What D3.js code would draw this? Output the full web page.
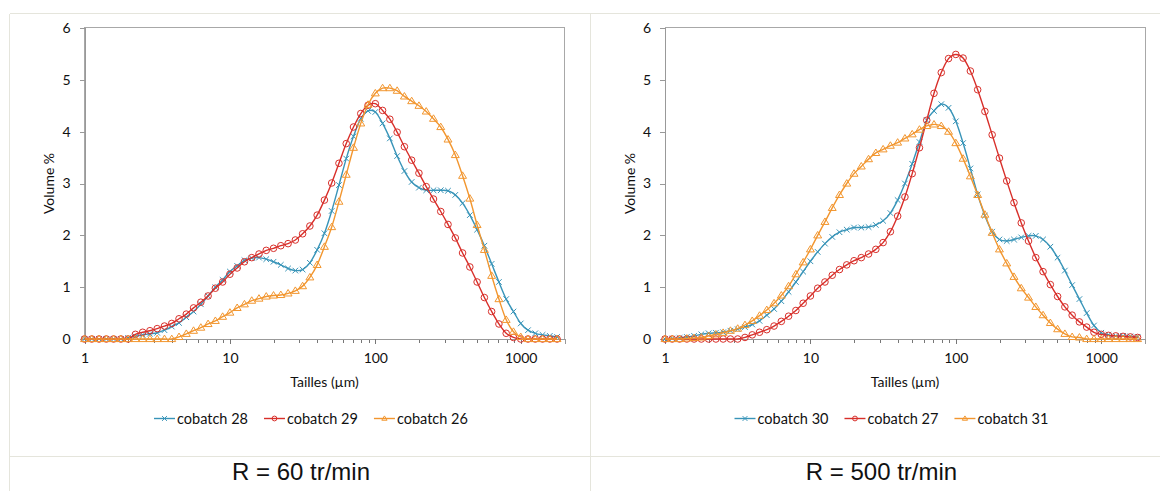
<!DOCTYPE html>
<html><head><meta charset="utf-8">
<script src="https://cdn.jsdelivr.net/npm/d3@7"></script>
<style>body{margin:0;background:#fff;overflow:hidden} svg{display:block}</style>
</head><body>
<svg id="c" width="1160" height="491"></svg>
<script>
// particle size classes (µm)
const sizes = [1,1.122,1.259,1.413,1.585,1.778,1.995,2.239,2.512,2.818,3.162,3.548,3.981,4.467,5.012,5.623,6.310,7.079,7.943,8.913,
  10,11.22,12.59,14.13,15.85,17.78,19.95,22.39,25.12,28.18,31.62,35.48,39.81,44.67,50.12,56.23,63.10,70.79,79.43,89.13,
  100,112.2,125.9,141.3,158.5,177.8,199.5,223.9,251.2,281.8,316.2,354.8,398.1,446.7,501.2,562.3,631.0,707.9,794.3,891.3,
  1000,1122,1259,1413,1585,1778];

// R = 60 tr/min
const cobatch28 = [0,0,0,0,0,0,0.02,0.05,0.08,0.10,0.12,0.17,0.24,0.31,0.42,0.53,0.67,0.83,1.00,1.14,
  1.30,1.41,1.52,1.56,1.57,1.54,1.49,1.43,1.36,1.32,1.34,1.47,1.72,2.04,2.47,2.97,3.48,3.91,4.25,4.40,
  4.38,4.16,3.87,3.53,3.24,3.03,2.92,2.87,2.87,2.87,2.86,2.78,2.62,2.39,2.11,1.80,1.45,1.10,0.77,0.53,
  0.30,0.17,0.11,0.08,0.06,0.04];
const cobatch29 = [0,0,0,0,0,0,0,0.09,0.13,0.16,0.20,0.25,0.30,0.39,0.48,0.60,0.71,0.83,0.98,1.10,
  1.25,1.37,1.49,1.57,1.64,1.71,1.75,1.80,1.84,1.91,2.03,2.18,2.39,2.68,3.01,3.39,3.77,4.09,4.35,4.51,
  4.54,4.41,4.24,3.99,3.71,3.45,3.20,2.94,2.70,2.46,2.21,1.95,1.66,1.39,1.10,0.80,0.53,0.29,0.11,0.03,
  0,0,0,0,0,0];
const cobatch26 = [0,0,0,0,0,0,0,0,0,0,0,0,0,0.04,0.10,0.16,0.22,0.29,0.35,0.43,
  0.51,0.60,0.67,0.74,0.78,0.82,0.84,0.85,0.88,0.93,1.02,1.19,1.43,1.78,2.16,2.65,3.17,3.69,4.16,4.52,
  4.74,4.84,4.84,4.79,4.68,4.59,4.50,4.39,4.25,4.09,3.85,3.55,3.15,2.71,2.20,1.72,1.22,0.77,0.37,0.14,
  0.04,0,0,0,0,0];

// R = 500 tr/min
const cobatch30 = [0,0.01,0.02,0.04,0.06,0.09,0.11,0.12,0.13,0.16,0.19,0.23,0.28,0.35,0.46,0.58,0.73,0.91,1.10,1.30,
  1.50,1.68,1.84,1.97,2.06,2.11,2.15,2.15,2.16,2.20,2.28,2.43,2.68,3.00,3.38,3.80,4.22,4.40,4.53,4.46,
  4.20,3.78,3.29,2.79,2.38,2.07,1.92,1.89,1.92,1.96,1.99,1.99,1.92,1.78,1.57,1.32,1.04,0.77,0.50,0.26,
  0.12,0.08,0.06,0.06,0.05,0.04];
const cobatch27 = [0,0,0,0,0,0,0,0,0,0,0,0.03,0.08,0.13,0.18,0.25,0.34,0.44,0.55,0.69,
  0.83,0.98,1.10,1.23,1.34,1.43,1.51,1.57,1.64,1.73,1.86,2.07,2.37,2.74,3.19,3.69,4.22,4.74,5.14,5.41,
  5.49,5.42,5.17,4.81,4.39,3.94,3.49,3.05,2.63,2.24,1.89,1.57,1.30,1.05,0.82,0.62,0.46,0.33,0.23,0.13,
  0.09,0.07,0.06,0.05,0.04,0.03];
const cobatch31 = [0,0,0,0.01,0.02,0.03,0.06,0.09,0.12,0.16,0.20,0.27,0.35,0.45,0.56,0.69,0.84,1.02,1.25,1.48,
  1.73,2.00,2.26,2.53,2.78,3.00,3.19,3.33,3.47,3.59,3.66,3.73,3.79,3.87,3.95,4.04,4.11,4.14,4.11,4.00,
  3.78,3.48,3.14,2.78,2.40,2.05,1.73,1.46,1.20,0.98,0.80,0.62,0.46,0.31,0.19,0.10,0.04,0.03,0,0,
  0,0,0,0,0,0];

const namesLeft = ["cobatch 28","cobatch 29","cobatch 26"];
const namesRight = ["cobatch 30","cobatch 27","cobatch 31"];
const yTicks = [0,1,2,3,4,5,6];
const xTicks = [1,10,100,1000];
const xTitle = "Tailles (µm)";
const yTitle = "Volume %";
const captions = ["R = 60 tr/min","R = 500 tr/min"];

const colors = ["#3894b8","#d82f2a","#f2962f"];
const markers = ["x","circle","triangle"];
const FONT = "Lato, 'Open Sans', sans-serif";

const svg = d3.select("#c");

// table grid
const grid = svg.append("g").attr("stroke","#e5e5dc").attr("stroke-width",1).attr("shape-rendering","crispEdges");
grid.append("line").attr("x1",9.5).attr("x2",1160).attr("y1",13.5).attr("y2",13.5);
grid.append("line").attr("x1",9.5).attr("x2",9.5).attr("y1",13.5).attr("y2",491);
grid.append("line").attr("x1",590.5).attr("x2",590.5).attr("y1",13.5).attr("y2",491);
grid.append("line").attr("x1",9.5).attr("x2",1160).attr("y1",456.5).attr("y2",456.5);

function drawMarker(g, type, cx, cy, color, s) {
  if (type === "x") {
    g.append("path").attr("d",`M${cx-s},${cy-s}L${cx+s},${cy+s}M${cx-s},${cy+s}L${cx+s},${cy-s}`)
      .attr("stroke",color).attr("stroke-width",1).attr("fill","none");
  } else if (type === "circle") {
    g.append("circle").attr("cx",cx).attr("cy",cy).attr("r",s).attr("fill","none")
      .attr("stroke",color).attr("stroke-width",1);
  } else {
    const h = s*1.8;
    g.append("path").attr("d",`M${cx},${cy-h*0.6}L${cx+s*1.1},${cy+h*0.4}L${cx-s*1.1},${cy+h*0.4}Z`)
      .attr("fill","none").attr("stroke",color).attr("stroke-width",1);
  }
}

function chart(ox, seriesList, names, caption) {
  const g = svg.append("g").attr("transform",`translate(${ox},0)`);
  const x = d3.scaleLog().domain([1,2000]).range([84.5,564.5]);
  const y = d3.scaleLinear().domain([0,6]).range([339,28]);

  g.append("rect").attr("x",84.5).attr("y",27.5).attr("width",480).attr("height",311.5)
    .attr("fill","none").attr("stroke","#a8a8a8").attr("shape-rendering","crispEdges");

  const ya = g.append("g").attr("transform","translate(84.5,0)")
    .call(d3.axisLeft(y).tickValues(yTicks).tickSize(5).tickPadding(9).tickFormat(d3.format("d")));
  ya.select(".domain").attr("stroke","#999").attr("shape-rendering","crispEdges");
  ya.selectAll(".tick line").attr("stroke","#999").attr("shape-rendering","crispEdges");
  ya.selectAll("text").attr("font-family",FONT).attr("font-size",14).attr("fill","#111");

  const minor = [];
  [1,10,100,1000].forEach(d => { for (let m=2;m<=9;m++){ const v=d*m; if (v<2000) minor.push(v);} });
  const xm = g.append("g").attr("transform","translate(0,339)")
    .call(d3.axisBottom(x).tickValues(minor).tickSize(4).tickFormat(""));
  xm.select(".domain").remove();
  xm.selectAll(".tick line").attr("stroke","#777").attr("shape-rendering","crispEdges");
  const xa = g.append("g").attr("transform","translate(0,339)")
    .call(d3.axisBottom(x).tickValues(xTicks).tickSize(5).tickPadding(9).tickFormat(d3.format("d")));
  xa.select(".domain").attr("stroke","#999").attr("shape-rendering","crispEdges");
  xa.selectAll(".tick line").attr("stroke","#777").attr("shape-rendering","crispEdges");
  xa.selectAll("text").attr("font-family",FONT).attr("font-size",14).attr("fill","#111");

  g.append("text").attr("x",324.5).attr("y",386.5).attr("text-anchor","middle")
    .attr("font-family",FONT).attr("font-size",14).attr("fill","#111").text(xTitle);
  g.append("text").attr("transform","translate(54,183.5) rotate(-90)").attr("text-anchor","middle")
    .attr("font-family",FONT).attr("font-size",14).attr("fill","#111").text(yTitle);

  const line = d3.line().x((d,i)=>x(sizes[i])).y(d=>y(d)).curve(d3.curveCardinal.tension(0));
  seriesList.forEach((vals,si) => {
    const sg = g.append("g");
    sg.append("path").datum(vals).attr("d",line).attr("fill","none")
      .attr("stroke",colors[si]).attr("stroke-width",1.4);
    const sz = markers[si]==="circle"?3.3:(markers[si]==="x"?2.8:3.6);
    vals.forEach((v,i) => drawMarker(sg, markers[si], x(sizes[i]), y(v), colors[si], sz));
  });

  const lg = g.append("g");
  let lx = 154;
  names.forEach((n,i) => {
    lg.append("line").attr("x1",lx).attr("x2",lx+21).attr("y1",418.5).attr("y2",418.5)
      .attr("stroke",colors[i]).attr("stroke-width",1.4);
    drawMarker(lg, markers[i], lx+10.5, 418.5, colors[i], 2.4);
    const t = lg.append("text").attr("x",lx+23).attr("y",423.5).attr("font-family",FONT)
      .attr("font-size",14.5).attr("fill","#111").text(n);
    lx += 23 + t.node().getComputedTextLength() + 16;
  });

  svg.append("text").attr("x",ox+301).attr("y",480).attr("text-anchor","middle")
    .attr("font-family","'Liberation Sans', Arial, sans-serif").attr("font-size",24).attr("fill","#111").text(caption);
}

chart(0, [cobatch28,cobatch29,cobatch26], namesLeft, captions[0]);
chart(580.5, [cobatch30,cobatch27,cobatch31], namesRight, captions[1]);
</script>
</body></html>
